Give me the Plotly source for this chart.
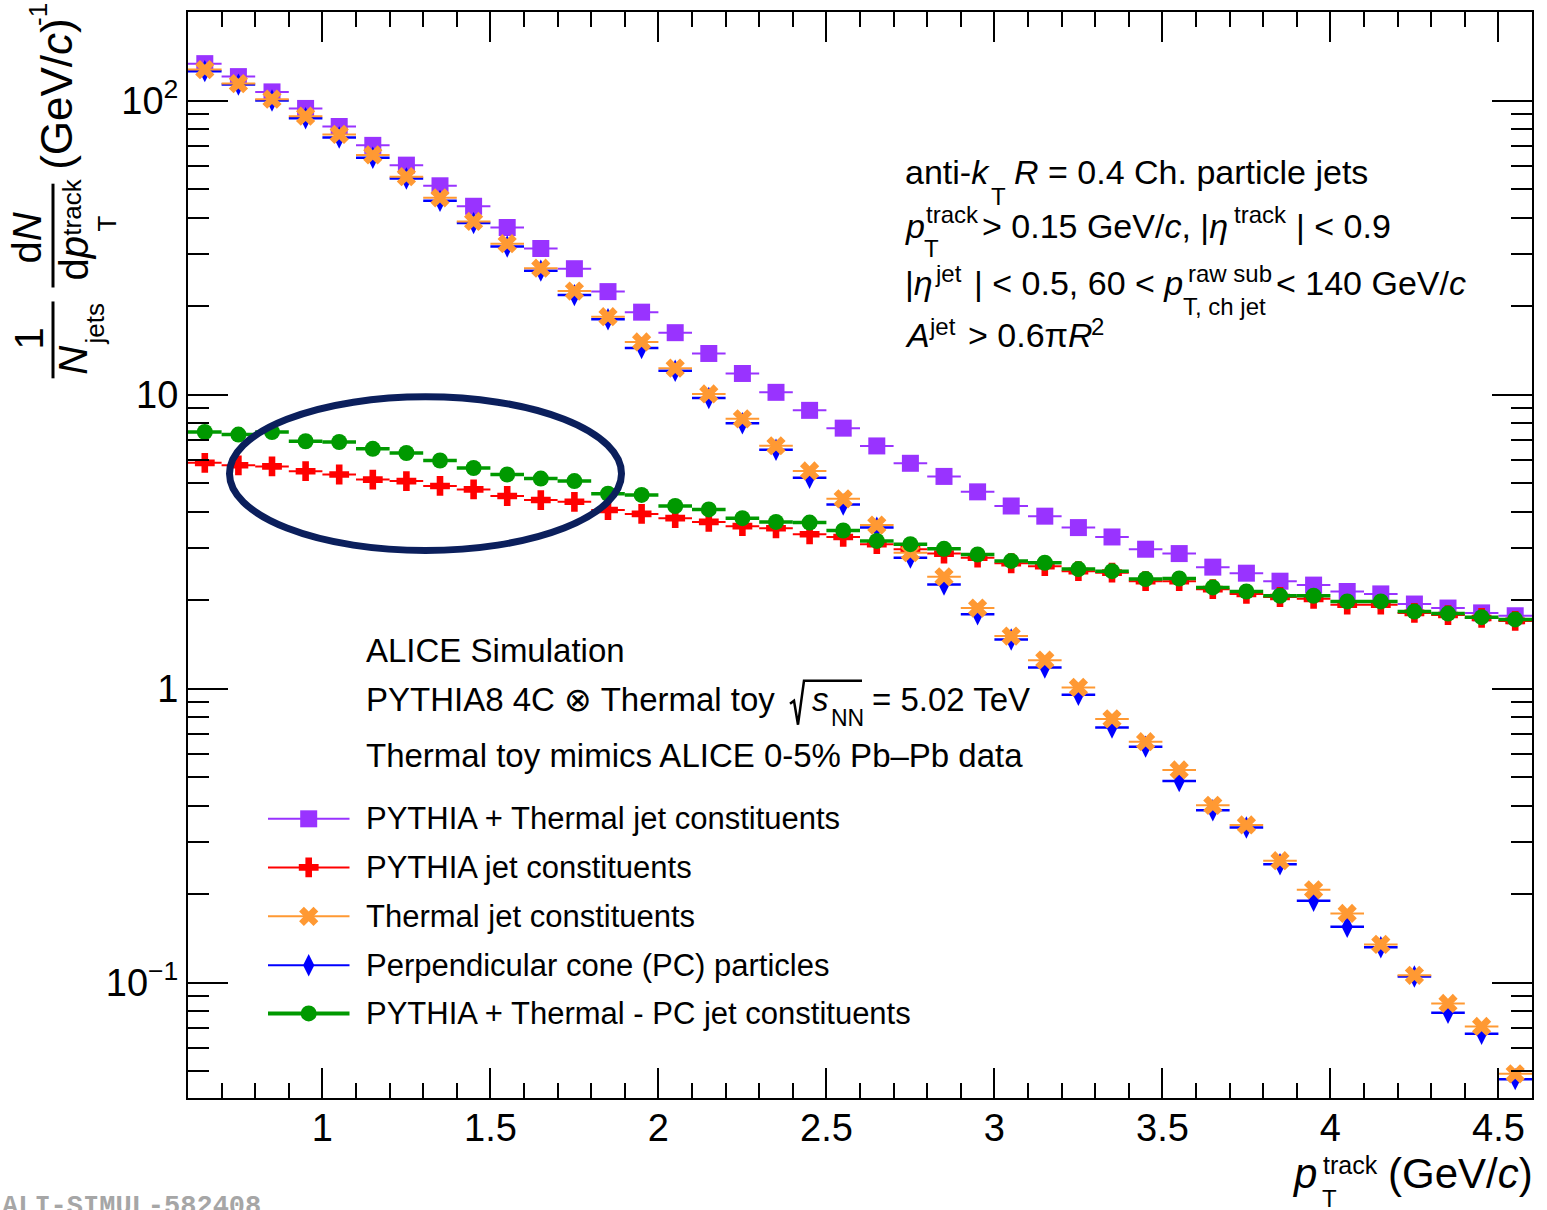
import plotly.graph_objects as go

FONT = "Liberation Sans, Arial, Helvetica, sans-serif"

# ---------------- data ----------------
pt_centers = [0.65, 0.75, 0.85, 0.95, 1.05, 1.15, 1.25, 1.35, 1.45, 1.55,
              1.65, 1.75, 1.85, 1.95, 2.05, 2.15, 2.25, 2.35, 2.45, 2.55,
              2.65, 2.75, 2.85, 2.95, 3.05, 3.15, 3.25, 3.35, 3.45, 3.55,
              3.65, 3.75, 3.85, 3.95, 4.05, 4.15, 4.25, 4.35, 4.45, 4.55]
bin_half_width = 0.05

pythia_thermal = [133.5, 120.6, 107.0, 94.0, 81.6, 70.4, 60.3, 51.3, 43.7, 37.0,
                  31.4, 26.8, 22.4, 19.07, 16.24, 13.8, 11.8, 10.18, 8.84, 7.69,
                  6.69, 5.84, 5.27, 4.67, 4.18, 3.86, 3.53, 3.28, 2.98, 2.88,
                  2.59, 2.47, 2.32, 2.25, 2.14, 2.10, 1.94, 1.88, 1.81, 1.77]

pythia = [5.86, 5.75, 5.70, 5.49, 5.35, 5.14, 5.08, 4.89, 4.76, 4.52,
          4.38, 4.32, 4.05, 3.93, 3.80, 3.69, 3.57, 3.51, 3.35, 3.28,
          3.10, 2.98, 2.88, 2.79, 2.67, 2.61, 2.51, 2.48, 2.32, 2.32,
          2.18, 2.10, 2.05, 2.02, 1.93, 1.93, 1.81, 1.78, 1.74, 1.70]

thermal = [127.4, 114.2, 101.1, 88.5, 76.7, 65.3, 55.1, 46.7, 38.8, 32.6,
           26.9, 22.5, 18.4, 15.1, 12.3, 10.05, 8.27, 6.70, 5.50, 4.42,
           3.60, 2.90, 2.40, 1.88, 1.51, 1.25, 1.01, 0.789, 0.660, 0.529,
           0.401, 0.344, 0.260, 0.207, 0.172, 0.135, 0.106, 0.085, 0.071, 0.049]

perp_cone = [125.9, 113.3, 100.0, 87.1, 74.9, 63.9, 54.3, 45.6, 38.3, 31.9,
             26.4, 21.8, 18.05, 14.4, 12.06, 9.74, 7.99, 6.49, 5.21, 4.23,
             3.53, 2.79, 2.26, 1.79, 1.47, 1.18, 0.953, 0.738, 0.635, 0.485,
             0.386, 0.337, 0.253, 0.190, 0.155, 0.132, 0.105, 0.079, 0.067, 0.047]

pythia_thermal_minus_pc = [7.46, 7.31, 7.46, 6.94, 6.90, 6.54, 6.33, 5.97, 5.63, 5.35,
                           5.18, 5.08, 4.60, 4.56, 4.18, 4.07, 3.80, 3.69, 3.67, 3.45,
                           3.18, 3.10, 2.99, 2.86, 2.72, 2.68, 2.55, 2.51, 2.36, 2.37,
                           2.21, 2.14, 2.07, 2.07, 1.98, 1.98, 1.83, 1.80, 1.75, 1.72]

legend_labels = ["PYTHIA + Thermal jet constituents",
                 "PYTHIA jet constituents",
                 "Thermal jet constituents",
                 "Perpendicular cone (PC) particles",
                 "PYTHIA + Thermal - PC jet constituents"]

x_tick_vals = [1, 1.5, 2, 2.5, 3, 3.5, 4, 4.5]
x_tick_text = ["1", "1.5", "2", "2.5", "3", "3.5", "4", "4.5"]
y_tick_vals = [0.1, 1, 10, 100]
y_tick_text = ["10<sup>\u22121</sup>", "1", "10", "10<sup>2</sup>"]
y_minor_vals = [k * 10.0 ** d for d in (-2, -1, 0, 1, 2) for k in range(2, 10)]

# ---------------- styles ----------------
PURPLE = "#9933ff"
RED = "#ff0000"
ORANGE = "#ff9933"
BLUE = "#0000ff"
GREEN = "#009900"
NAVY = "#0b1f5c"

series = {
    "pt": (pythia_thermal, PURPLE, "square", 17, 2),
    "py": (pythia, RED, "cross", 16.5, 2),
    "pc": (perp_cone, BLUE, "diamond-tall", 16, 2.5),
    "th": (thermal, ORANGE, "x", 17, 2),
    "gr": (pythia_thermal_minus_pc, GREEN, "circle", 16, 3.5),
}
draw_order = ["pt", "py", "pc", "th", "gr"]
legend_order = ["pt", "py", "th", "pc", "gr"]

# plot frame in pixels
L, R, T, B = 188, 1532, 10, 1098


def px(x):
    return (x - L) / (R - L)


def py(y):
    return (B - y) / (B - T)


fig = go.Figure()

for key in draw_order:
    vals, col, sym, size, ethick = series[key]
    fig.add_trace(go.Scatter(
        x=pt_centers, y=vals, mode="markers",
        marker=dict(symbol=sym, size=size, color=col, line=dict(width=0)),
        error_x=dict(type="constant", value=bin_half_width, thickness=ethick,
                     width=0, color=col),
        showlegend=False, hoverinfo="skip"))

# ---------------- manual legend ----------------
leg_y = [818.3, 867, 916, 965, 1013.3]
for key, label, yc in zip(legend_order, legend_labels, leg_y):
    vals, col, sym, size, ethick = series[key]
    fig.add_trace(go.Scatter(
        x=[268, 349.5], y=[yc, yc], xaxis="x2", yaxis="y2", mode="lines",
        line=dict(color=col, width=4 if key == "gr" else 2),
        showlegend=False, hoverinfo="skip"))
    fig.add_trace(go.Scatter(
        x=[308.7], y=[yc], xaxis="x2", yaxis="y2", mode="markers",
        marker=dict(symbol=sym, size=size, color=col, line=dict(width=0)),
        showlegend=False, hoverinfo="skip"))

ann = []


def note(x, y, text, size, xanchor="left", angle=0, color="black",
         family=FONT, yanchor="middle"):
    ann.append(dict(x=px(x), y=py(y), xref="paper", yref="paper", text=text,
                    showarrow=False, xanchor=xanchor, yanchor=yanchor,
                    textangle=angle, font=dict(size=size, family=family, color=color)))


def bnote(x, baseline, text, size, **kw):
    note(x, baseline - 0.35 * size, text, size, **kw)


for label, yc in zip(legend_labels, leg_y):
    note(364, yc, label, 31)

# header block
note(364, 649.3, "ALICE Simulation", 33)
bnote(364, 710.7, "PYTHIA8 4C \u2297 Thermal toy", 33)
bnote(810, 710.7, "<i>s</i>", 33)
note(829, 717, "NN", 23)
bnote(870, 710.7, "= 5.02 TeV", 33)
note(364, 755, "Thermal toy mimics ALICE 0-5% Pb\u2013Pb data", 33)

# top-right block
FS, SS = 34, 24
bnote(903, 181.7, "anti-<i>k</i>", FS)
note(989, 195, "T", SS)
bnote(1012, 181.7, "<i>R</i> = 0.4 Ch. particle jets", FS)

bnote(903, 236.7, "<i>p</i>", FS)
note(924, 212.7, "track", SS)
note(922, 246.7, "T", SS)
bnote(980, 236.7, "> 0.15 GeV/<i>c</i>, |<i>\u03b7</i>", FS)
note(1232, 212.7, "track", SS)
bnote(1294, 236.7, "| < 0.9", FS)

bnote(903, 293.3, "|<i>\u03b7</i>", FS)
note(933, 271.7, "jet", SS)
bnote(972, 293.3, "| < 0.5, 60 < <i>p</i>", FS)
note(1186, 272, "raw sub", SS)
note(1181, 305, "T, ch jet", SS)
bnote(1274, 293.3, "< 140 GeV/<i>c</i>", FS)

bnote(903, 345, "<i>A</i>", FS)
note(927, 325, "jet", SS)
bnote(966, 345, "> 0.6\u03c0<i>R</i>", FS)
note(1089, 325, "2", SS)

# x-axis title
XT = 42
bnote(1290, 1188, "<i>p</i>", XT)
note(1321, 1165.5, "track", 25)
note(1320, 1199, "T", 24)
bnote(1386, 1188, "(GeV/<i>c</i>)", XT)

# y-axis title (rotated)
YT, YS = 40, 26
note(29, 337, "1", YT, xanchor="center", angle=-90)
note(73.5, 359, "<i>N</i>", YT, xanchor="center", angle=-90)
note(95, 323, "jets", YS, xanchor="center", angle=-90)
note(27, 237, "d<i>N</i>", YT, xanchor="center", angle=-90)
note(74, 257, "d<i>p</i>", YT, xanchor="center", angle=-90)
note(72, 206, "track", YS, xanchor="center", angle=-90)
note(107, 222, "T", YS, xanchor="center", angle=-90)
note(57, 92, "(GeV/<i>c</i>)", 44, xanchor="center", angle=-90)
note(38, 13, "-1", YS, xanchor="center", angle=-90)

# watermark
note(0, 1207, "<b>ALI-SIMUL-582408</b>", 27, family="Liberation Mono, monospace",
     color="#a6a6a6")

shapes = []
# fraction bars of the y-title
shapes.append(dict(type="line", xref="paper", yref="paper", x0=px(53), x1=px(53),
                   y0=py(300), y1=py(377), line=dict(color="black", width=3)))
shapes.append(dict(type="line", xref="paper", yref="paper", x0=px(53), x1=px(53),
                   y0=py(182), y1=py(286), line=dict(color="black", width=3)))
# sqrt sign
pts = [(790, 703), (794, 700), (798, 724), (804, 680), (862, 680)]
path = "M " + " L ".join(f"{px(a):.5f},{py(b):.5f}" for a, b in pts)
shapes.append(dict(type="path", xref="paper", yref="paper", path=path,
                   line=dict(color="black", width=2.5)))
# highlight ellipse
shapes.append(dict(type="circle", xref="paper", yref="paper",
                   x0=px(229.5), x1=px(621.5), y0=py(549.5), y1=py(395.5),
                   line=dict(color=NAVY, width=7)))

axis_common = dict(showline=True, linewidth=2, linecolor="black", mirror="allticks",
                   ticks="inside", tickwidth=2, tickcolor="black", showgrid=False,
                   zeroline=False, tickfont=dict(size=38, family=FONT, color="black"))

fig.update_layout(
    width=1547, height=1210,
    margin=dict(l=L, r=1547 - R, t=T, b=1210 - B),
    paper_bgcolor="white", plot_bgcolor="white",
    showlegend=False,
    xaxis=dict(range=[0.6, 4.6], tickmode="array", tickvals=x_tick_vals,
               ticktext=x_tick_text, ticklen=30, ticklabelstandoff=-5,
               minor=dict(dtick=0.1, tick0=0, ticks="inside", ticklen=15,
                          tickwidth=2, tickcolor="black", showgrid=False),
               **axis_common),
    yaxis=dict(type="log", range=[-1.392, 2.3011], tickmode="array",
               tickvals=y_tick_vals, ticktext=y_tick_text, ticklen=40,
               minor=dict(tickmode="array", tickvals=y_minor_vals, ticks="inside",
                          ticklen=21, tickwidth=2, tickcolor="black", showgrid=False),
               **axis_common),
    xaxis2=dict(range=[L, R], overlaying="x", anchor="y2", visible=False),
    yaxis2=dict(range=[B, T], overlaying="y", anchor="x2", visible=False),
    annotations=ann,
    shapes=shapes,
)

fig.write_html("out.html")
